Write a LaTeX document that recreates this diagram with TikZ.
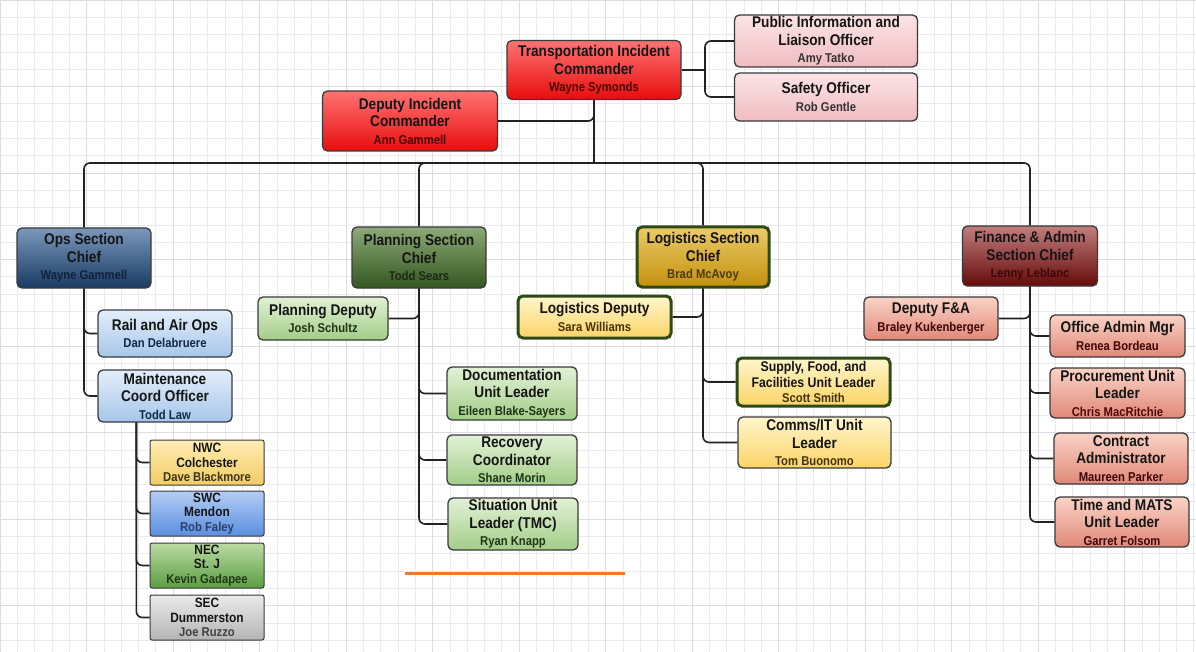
\documentclass[tikz,border=0pt]{standalone}
\usepackage{fontspec}
\setmainfont{Liberation Sans}[FakeStretch=0.88]
\definecolor{gridc}{HTML}{EAEAF0}
\definecolor{gridm}{HTML}{DCDCE6}
\definecolor{boxline}{HTML}{3A3A3A}
\definecolor{conncol}{HTML}{222222}
\definecolor{ttlcol}{HTML}{151515}
\newcommand{\ttl}{\bfseries\fontsize{15.5}{17.5}\selectfont\color{ttlcol}}
\newcommand{\nm}[1]{\fontsize{12.8}{15.5}\selectfont\color{#1}}
\begin{document}
\begin{tikzpicture}[x=1pt,y=-1pt,
  box/.style={draw=boxline, line width=1.3pt, rounded corners=5pt, align=center,
    inner sep=0pt, font=\ttl},
  sz/.style 2 args={minimum width=#1pt, minimum height=#2pt},
  redbox/.style={box, top color=red!55!white, bottom color=red!90!black!95},
  pinkbox/.style={box, top color=HTMLpink1, bottom color=HTMLpink2},
  opsbox/.style={box, top color=opsT, bottom color=opsB},
  planbox/.style={box, top color=planT, bottom color=planB},
  logbox/.style={box, draw=logline, line width=3pt, top color=logT, bottom color=logB},
  finbox/.style={box, top color=finT, bottom color=finB},
  ltblue/.style={box, top color=lbT, bottom color=lbB},
  ltgreen/.style={box, top color=lgT, bottom color=lgB},
  ltyel/.style={box, top color=lyT, bottom color=lyB},
  ltyelthick/.style={ltyel, draw=logline, line width=3pt},
  salmon/.style={box, top color=saT, bottom color=saB},
  smallbox/.style={box, rounded corners=2pt, line width=1pt, font=\bfseries\fontsize{13.5}{14.8}\selectfont\color{ttlcol}},
  conn/.style={draw=conncol, line width=1.6pt, rounded corners=6pt},
]
\definecolor{HTMLpink1}{HTML}{FBE4E6}
\definecolor{HTMLpink2}{HTML}{F0BCC1}
\definecolor{opsT}{HTML}{7C98BC}
\definecolor{opsB}{HTML}{183A62}
\definecolor{planT}{HTML}{8DAA78}
\definecolor{planB}{HTML}{34561F}
\definecolor{logline}{HTML}{2E4A16}
\definecolor{logT}{HTML}{EBCB68}
\definecolor{logB}{HTML}{C4900E}
\definecolor{finT}{HTML}{C27E7E}
\definecolor{finB}{HTML}{650A0A}
\definecolor{lbT}{HTML}{E3EEF9}
\definecolor{lbB}{HTML}{A6C6EA}
\definecolor{lgT}{HTML}{E2F1D6}
\definecolor{lgB}{HTML}{A3CD88}
\definecolor{lyT}{HTML}{FFF6CC}
\definecolor{lyB}{HTML}{FBD466}
\definecolor{saT}{HTML}{FAD3C6}
\definecolor{saB}{HTML}{E08878}
\definecolor{nwcT}{HTML}{FEEDB4}
\definecolor{nwcB}{HTML}{F3CC62}
\definecolor{swcT}{HTML}{B4CDF4}
\definecolor{swcB}{HTML}{5B8EE0}
\definecolor{necT}{HTML}{BBDAA2}
\definecolor{necB}{HTML}{5A9E44}
\definecolor{secT}{HTML}{EAEAEA}
\definecolor{secB}{HTML}{B4B4B4}
% background
\fill[white] (0,0) rectangle (1196,652);
\useasboundingbox (0,0) rectangle (1196,652);
\foreach \i in {0,...,69} {\draw[gridc, line width=0.6pt] (\i*17.3,0) -- (\i*17.3,652);}
\foreach \j in {0,...,38} {\draw[gridc, line width=0.6pt] (0,\j*17.3) -- (1196,\j*17.3);}
\foreach \i in {0,...,13} {\draw[gridm, line width=0.8pt] (\i*86.5,0) -- (\i*86.5,652);}
\foreach \j in {0,...,7} {\draw[gridm, line width=0.8pt] (0,\j*86.5) -- (1196,\j*86.5);}

% command level
\node[redbox, sz={174}{59}] (tic) at (594,70) {Transportation Incident\\Commander\\\nm{red!30!black}Wayne Symonds};
\node[pinkbox, sz={183}{52}] (pio) at (826,41) {Public Information and\\Liaison Officer\\\nm{black!80}Amy Tatko};
\node[pinkbox, sz={183}{48}] (saf) at (826,97) {Safety Officer\\\nm{black!80}Rob Gentle};
\node[redbox, sz={175}{60}] (dic) at (410,121) {Deputy Incident\\Commander\\\nm{red!30!black}Ann Gammell};

% section chiefs
\node[opsbox, sz={134}{60}] (ops) at (84,258) {Ops Section\\Chief\\\nm{opsB!60!black}Wayne Gammell};
\node[planbox, sz={134}{61}] (plan) at (419,257.5) {Planning Section\\Chief\\\nm{planB!50!black}Todd Sears};
\node[logbox, sz={132}{60}] (log) at (703,257) {Logistics Section\\Chief\\\nm{logB!40!black}Brad McAvoy};
\node[finbox, sz={135}{60}] (fin) at (1030,256) {Finance \& Admin\\Section Chief\\\nm{finB!60!black}Lenny Leblanc};

% ops
\node[ltblue, sz={134}{47}] (rail) at (165,333.5) {Rail and Air Ops\\\nm{opsB!70!black}Dan Delabruere};
\node[ltblue, sz={134}{52}] (maint) at (165,396) {Maintenance\\Coord Officer\\\nm{opsB!70!black}Todd Law};
\node[smallbox, sz={114}{45}, top color=nwcT, bottom color=nwcB] (nwc) at (207,462.5) {NWC\\Colchester\\\nm{nwcB!25!black}Dave Blackmore};
\node[smallbox, sz={114}{45}, top color=swcT, bottom color=swcB] (swc) at (207,513.5) {SWC\\Mendon\\\nm{swcB!45!black}Rob Faley};
\node[smallbox, sz={114}{45}, top color=necT, bottom color=necB] (nec) at (207,565.5) {NEC\\St. J\\\nm{necB!35!black}Kevin Gadapee};
\node[smallbox, sz={114}{45}, top color=secT, bottom color=secB] (sec) at (207,617.5) {SEC\\Dummerston\\\nm{black!75}Joe Ruzzo};

% planning
\node[ltgreen, sz={130}{43}] (pdep) at (323,318.5) {Planning Deputy\\\nm{planB!60!black}Josh Schultz};
\node[ltgreen, sz={130}{53}] (doc) at (512,393.5) {Documentation\\Unit Leader\\\nm{planB!60!black}Eileen Blake-Sayers};
\node[ltgreen, sz={130}{50}] (rec) at (512,460) {Recovery\\Coordinator\\\nm{planB!60!black}Shane Morin};
\node[ltgreen, sz={130}{52}] (sit) at (513,524) {Situation Unit\\Leader (TMC)\\\nm{planB!60!black}Ryan Knapp};

% logistics
\node[ltyelthick, sz={153}{42}] (ldep) at (594.5,317) {Logistics Deputy\\\nm{logB!35!black}Sara Williams};
\node[ltyelthick, sz={153}{48}, font=\bfseries\fontsize{14}{15.5}\selectfont\color{ttlcol}] (sup) at (813.5,382) {Supply, Food, and\\Facilities Unit Leader\\\nm{logB!35!black}Scott Smith};
\node[ltyel, sz={153}{51}] (com) at (814.5,442.5) {Comms/IT Unit\\Leader\\\nm{logB!35!black}Tom Buonomo};

% finance
\node[salmon, sz={134}{43}] (fdep) at (931,318.5) {Deputy F\&A\\\nm{finB!60!black}Braley Kukenberger};
\node[salmon, sz={135}{42}] (off) at (1117.5,336) {Office Admin Mgr\\\nm{finB!60!black}Renea Bordeau};
\node[salmon, sz={135}{50}] (pro) at (1117.5,393) {Procurement Unit\\Leader\\\nm{finB!80!black}Chris MacRitchie};
\node[salmon, sz={134}{51}] (con) at (1121,458.5) {Contract\\Administrator\\\nm{finB!60!black}Maureen Parker};
\node[salmon, sz={134}{50}] (tim) at (1122,522) {Time and MATS\\Unit Leader\\\nm{finB!60!black}Garret Folsom};

% connectors
\coordinate (bus) at (594,163);
\coordinate (pj) at (705,70);
\draw[conn] (tic.south) -- (bus);
\draw[conn] (dic.east) -| (tic.south);
\draw[conn] (bus) -| (ops.north);
\draw[conn] (bus) -| (plan.north);
\draw[conn] (bus) -| (log.north);
\draw[conn] (bus) -| (fin.north);
\draw[conn] (tic.east) -- (pj);
\draw[conn] (pj) |- (pio.west);
\draw[conn] (pj) |- (saf.west);

\draw[conn] (ops.south) |- (rail.west);
\draw[conn] (ops.south) |- (maint.west);
\coordinate (mt) at ([xshift=39pt]maint.south west);
\draw[conn] (mt) |- (nwc.west);
\draw[conn] (mt) |- (swc.west);
\draw[conn] (mt) |- (nec.west);
\draw[conn] (mt) |- (sec.west);

\draw[conn] (plan.south) |- (pdep.east);
\draw[conn] (plan.south) |- (doc.west);
\draw[conn] (plan.south) |- (rec.west);
\draw[conn] (plan.south) |- (sit.west);

\draw[conn] (log.south) |- (ldep.east);
\draw[conn] (log.south) |- (sup.west);
\draw[conn] (log.south) |- (com.west);

\draw[conn] (fin.south) |- (fdep.east);
\draw[conn] (fin.south) |- (off.west);
\draw[conn] (fin.south) |- (pro.west);
\draw[conn] (fin.south) |- (con.west);
\draw[conn] (fin.south) |- (tim.west);

% orange mark
\coordinate (oa) at (405,573);
\coordinate (ob) at (625,573);
\draw[color={rgb,255:red,240;green,120;blue,40}, line width=3pt] (oa) -- (ob);
\end{tikzpicture}
\end{document}
